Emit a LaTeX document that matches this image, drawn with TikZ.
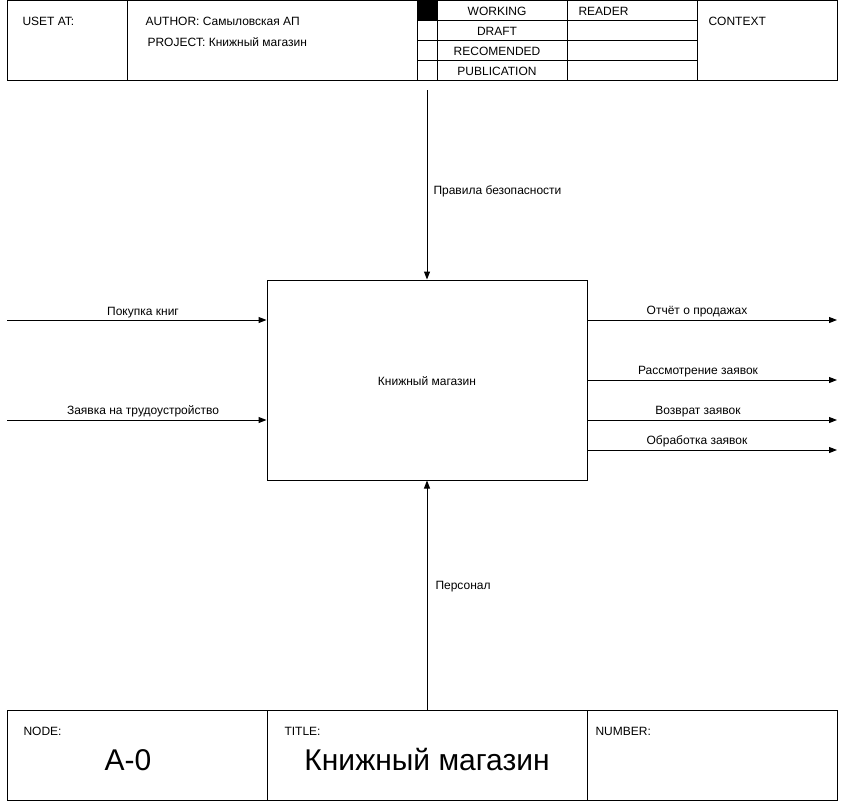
\documentclass[tikz,border=0pt]{standalone}
\usepackage{fontspec}
\setmainfont{Liberation Sans}
\usetikzlibrary{arrows.meta}
\begin{document}
\begin{tikzpicture}[x=1pt,y=-1pt, line width=1pt,
  lbl/.style={font=\fontsize{12}{14}\selectfont, inner sep=0pt, yshift=-1.5pt},
  big/.style={font=\fontsize{30}{34}\selectfont, inner sep=0pt},
  fnbox/.style={draw, rectangle, minimum width=320pt, minimum height=200pt, font=\fontsize{12}{14}\selectfont},
  flow/.style={-{Triangle[length=8pt,width=6pt]}}]
\useasboundingbox (0,0) rectangle (846,801);
% header
\draw (7,0.5) rectangle (837,80);
\draw (127,0.5) -- (127,80);
\draw (417,0.5) -- (417,80);
\draw (437,0.5) -- (437,80);
\draw (567,0.5) -- (567,80);
\draw (697,0.5) -- (697,80);
\fill (417,0.5) rectangle (437,20);
\draw (417,20) -- (697,20);
\draw (417,40) -- (697,40);
\draw (417,60) -- (697,60);
\node[lbl, anchor=west] (uset) at (22,20) {USET AT:};
\node[lbl, anchor=west] (author) at (145,20) {AUTHOR: Самыловская АП};
\node[lbl, anchor=west] (project) at (147,41) {PROJECT: Книжный магазин};
\node[lbl] (working) at (497,10) {WORKING};
\node[lbl] (draft) at (497,30) {DRAFT};
\node[lbl] (recom) at (497,50) {RECOMENDED};
\node[lbl] (publ) at (497,70) {PUBLICATION};
\node[lbl, anchor=west] (reader) at (578,10) {READER};
\node[lbl, anchor=west] (context) at (708,20) {CONTEXT};
% main function box
\node[fnbox] (main) at (427,380) {};
\node[lbl] (mainlbl) at (main.center) {Книжный магазин};
% control
\coordinate (ctrl) at (427,90);
\draw[flow] (ctrl) -- (main.north);
\node[lbl, anchor=west] (ctrllbl) at (433,190) {Правила безопасности};
% mechanism
\coordinate (mech) at (427,710);
\draw[flow] (mech) -- (main.south);
\node[lbl, anchor=west] (mechlbl) at (435,585) {Персонал};
% inputs
\coordinate (in1) at (7,320);
\coordinate (in2) at (7,420);
\draw[flow] (in1) -- (in1 -| main.west);
\draw[flow] (in2) -- (in2 -| main.west);
\node[lbl] (in1lbl) at (143,311) {Покупка книг};
\node[lbl] (in2lbl) at (143,410) {Заявка на трудоустройство};
% outputs
\coordinate (out1) at (837,320);
\coordinate (out2) at (837,380);
\coordinate (out3) at (837,420);
\coordinate (out4) at (837,450);
\draw[flow] (out1 -| main.east) -- (out1);
\draw[flow] (out2 -| main.east) -- (out2);
\draw[flow] (out3 -| main.east) -- (out3);
\draw[flow] (out4 -| main.east) -- (out4);
\node[lbl] (out1lbl) at (697,310) {Отчёт о продажах};
\node[lbl] (out2lbl) at (698,370) {Рассмотрение заявок};
\node[lbl] (out3lbl) at (698,410) {Возврат заявок};
\node[lbl] (out4lbl) at (697,440) {Обработка заявок};
% footer
\draw (7,710) rectangle (837,800);
\draw (267,710) -- (267,800);
\draw (587,710) -- (587,800);
\node[lbl, anchor=west] (nodel) at (23,730) {NODE:};
\node[big] (nodenum) at (128,760) {A-0};
\node[lbl, anchor=west] (titlel) at (284,730) {TITLE:};
\node[big] (title) at (427,760) {Книжный магазин};
\node[lbl, anchor=west] (numl) at (595,730) {NUMBER:};
\end{tikzpicture}
\end{document}
